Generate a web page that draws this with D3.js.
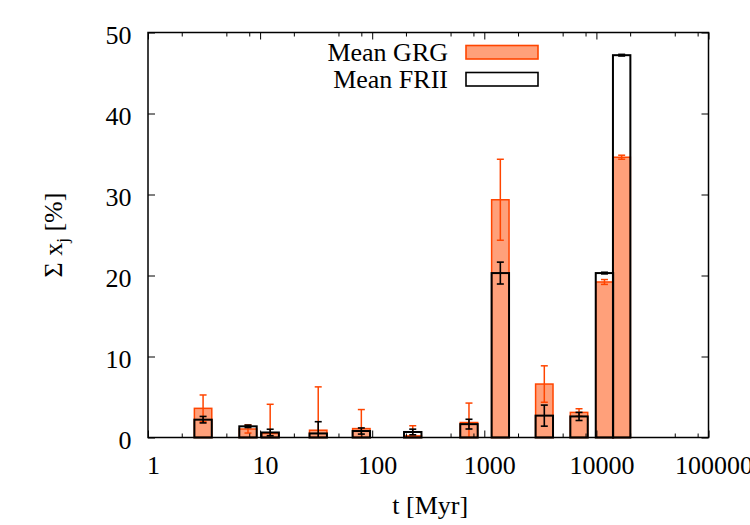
<!DOCTYPE html>
<html>
<head>
<meta charset="utf-8">
<script src="https://cdn.jsdelivr.net/npm/d3@7"></script>
<style>
  body { margin: 0; background: #fff; }
  text { font-family: "Liberation Serif", "Times New Roman", serif; fill: #000; }
</style>
</head>
<body>
<script>
// ages of the bins [Myr] and the mean light fractions with their errors
var ages     = [3.1, 7.8, 12.3, 33, 80, 230, 730, 1390, 3430, 7000, 11800, 16800];
var grgMean  = [3.6, 1.05, 0.5, 0.9, 1.1, 0.2, 1.85, 29.35, 6.6, 3.1, 19.2, 34.6];
var grgErr   = [1.65, 0.5, 3.6, 5.35, 2.35, 1.25, 2.4, 5.0, 2.25, 0.45, 0.3, 0.25];
var friiMean = [2.2, 1.38, 0.62, 0.5, 0.8, 0.68, 1.65, 20.3, 2.7, 2.6, 20.3, 47.2];
var friiErr  = [0.4, 0.15, 0.4, 1.45, 0.38, 0.35, 0.6, 1.35, 1.3, 0.5, 0.1, 0.1];

var xMajor = [1, 10, 100, 1000, 10000, 100000];
var xMinor = [2, 5, 8, 20, 50, 80, 200, 500, 800, 2000, 5000, 8000, 20000, 50000, 80000];
var yTicks = [0, 10, 20, 30, 40, 50];

var w = 750, h = 525;
var plotLeft = 148, plotRight = 708.5, plotTop = 32.5, plotBottom = 437.5;
var halfBox = 0.0777;   // half box width in decades
var cap = 3.5;
var fontSize = 26;

var grgFill = "#ffa07a", grgLine = "#ff4500";

var svg = d3.select("body").append("svg")
  .attr("width", w)
  .attr("height", h);

var x = d3.scaleLog().domain([1, 100000]).range([plotLeft, plotRight]);
var y = d3.scaleLinear().domain([0, 50]).range([plotBottom, plotTop]).clamp(true);

var grg = ages.map(function(t, i) { return {t: t, v: grgMean[i], e: grgErr[i]}; });
var frii = ages.map(function(t, i) { return {t: t, v: friiMean[i], e: friiErr[i]}; });

function boxes(data, cls, fill, stroke, sw) {
  svg.append("g").selectAll("rect." + cls)
    .data(data)
    .enter().append("rect")
    .attr("class", cls)
    .attr("x", function(d) { return x(d.t / Math.pow(10, halfBox)); })
    .attr("width", function(d) { return x(d.t * Math.pow(10, halfBox)) - x(d.t / Math.pow(10, halfBox)); })
    .attr("y", function(d) { return y(d.v); })
    .attr("height", function(d) { return y(0) - y(d.v); })
    .attr("fill", fill)
    .attr("stroke", stroke)
    .attr("stroke-width", sw);
}

function errorBars(data, color, sw) {
  var g = svg.append("g")
    .attr("stroke", color)
    .attr("stroke-width", sw)
    .attr("fill", "none");
  var e = g.selectAll("g").data(data).enter().append("g");
  e.append("line")
    .attr("x1", function(d) { return x(d.t); })
    .attr("x2", function(d) { return x(d.t); })
    .attr("y1", function(d) { return y(d.v - d.e); })
    .attr("y2", function(d) { return y(d.v + d.e); });
  e.append("line")
    .attr("x1", function(d) { return x(d.t) - cap; })
    .attr("x2", function(d) { return x(d.t) + cap; })
    .attr("y1", function(d) { return y(d.v + d.e); })
    .attr("y2", function(d) { return y(d.v + d.e); });
  e.filter(function(d) { return d.v - d.e > 0; }).append("line")
    .attr("x1", function(d) { return x(d.t) - cap; })
    .attr("x2", function(d) { return x(d.t) + cap; })
    .attr("y1", function(d) { return y(d.v - d.e); })
    .attr("y2", function(d) { return y(d.v - d.e); });
}

//Draw the bars, GRG first and FRII boxes on top.
boxes(grg, "grg", grgFill, grgLine, 1.5);
errorBars(grg, grgLine, 1.5);
boxes(frii, "frii", "none", "#000", 2);
errorBars(frii, "#000", 1.6);

//Axes with inward ticks on all four sides.
function styleAxis(g) {
  g.select(".domain").remove();
  g.selectAll("line").attr("stroke", "#000").attr("stroke-width", 1);
  g.attr("font-size", fontSize).attr("font-family", null);
}

svg.append("g")
  .attr("transform", "translate(0," + plotBottom + ")")
  .call(d3.axisBottom(x).tickValues(xMajor).tickFormat(d3.format("d")).tickSize(-7).tickPadding(18))
  .call(styleAxis)
  .selectAll("text").attr("dx", 5);
svg.append("g")
  .attr("transform", "translate(0," + plotBottom + ")")
  .call(d3.axisBottom(x).tickValues(xMinor).tickFormat("").tickSize(-4))
  .call(styleAxis);
svg.append("g")
  .attr("transform", "translate(0," + plotTop + ")")
  .call(d3.axisTop(x).tickValues(xMajor).tickFormat("").tickSize(-7))
  .call(styleAxis);
svg.append("g")
  .attr("transform", "translate(0," + plotTop + ")")
  .call(d3.axisTop(x).tickValues(xMinor).tickFormat("").tickSize(-4))
  .call(styleAxis);
svg.append("g")
  .attr("transform", "translate(" + plotLeft + ",0)")
  .call(d3.axisLeft(y).tickValues(yTicks).tickSize(-7).tickPadding(16.5))
  .call(styleAxis)
  .selectAll("text").attr("dy", "0.42em");
svg.append("g")
  .attr("transform", "translate(" + plotRight + ",0)")
  .call(d3.axisRight(y).tickValues(yTicks).tickFormat("").tickSize(-7))
  .call(styleAxis);

//Frame
svg.append("rect")
  .attr("x", plotLeft).attr("y", plotTop)
  .attr("width", plotRight - plotLeft).attr("height", plotBottom - plotTop)
  .attr("fill", "none").attr("stroke", "#000").attr("stroke-width", 1.5);

//Axis titles
svg.append("text")
  .attr("x", (plotLeft + plotRight) / 2 + 2)
  .attr("y", 514)
  .attr("text-anchor", "middle")
  .attr("font-size", fontSize)
  .text("t [Myr]");

var yt = svg.append("text")
  .attr("transform", "translate(62," + ((plotTop + plotBottom) / 2) + ") rotate(-90)")
  .attr("text-anchor", "middle")
  .attr("font-size", fontSize);
yt.append("tspan").text("\u03A3 x");
yt.append("tspan").attr("font-size", 17).attr("dy", 6).text("j");
yt.append("tspan").attr("dy", -6).text(" [%]");

//Legend
var legend = [
  {label: "Mean GRG", fill: grgFill, stroke: grgLine},
  {label: "Mean FRII", fill: "#fff", stroke: "#000"}
];
var legendEnter = svg.selectAll("g.legend").data(legend).enter()
  .append("g").attr("class", "legend");
legendEnter.append("text")
  .attr("x", 448)
  .attr("y", function(d, i) { return 61 + i * 27; })
  .attr("text-anchor", "end")
  .attr("font-size", fontSize)
  .text(function(d) { return d.label; });
legendEnter.append("rect")
  .attr("x", 466)
  .attr("y", function(d, i) { return 45.5 + i * 27; })
  .attr("width", 72)
  .attr("height", 13.5)
  .attr("fill", function(d) { return d.fill; })
  .attr("stroke", function(d) { return d.stroke; })
  .attr("stroke-width", 1.6);
</script>
</body>
</html>
